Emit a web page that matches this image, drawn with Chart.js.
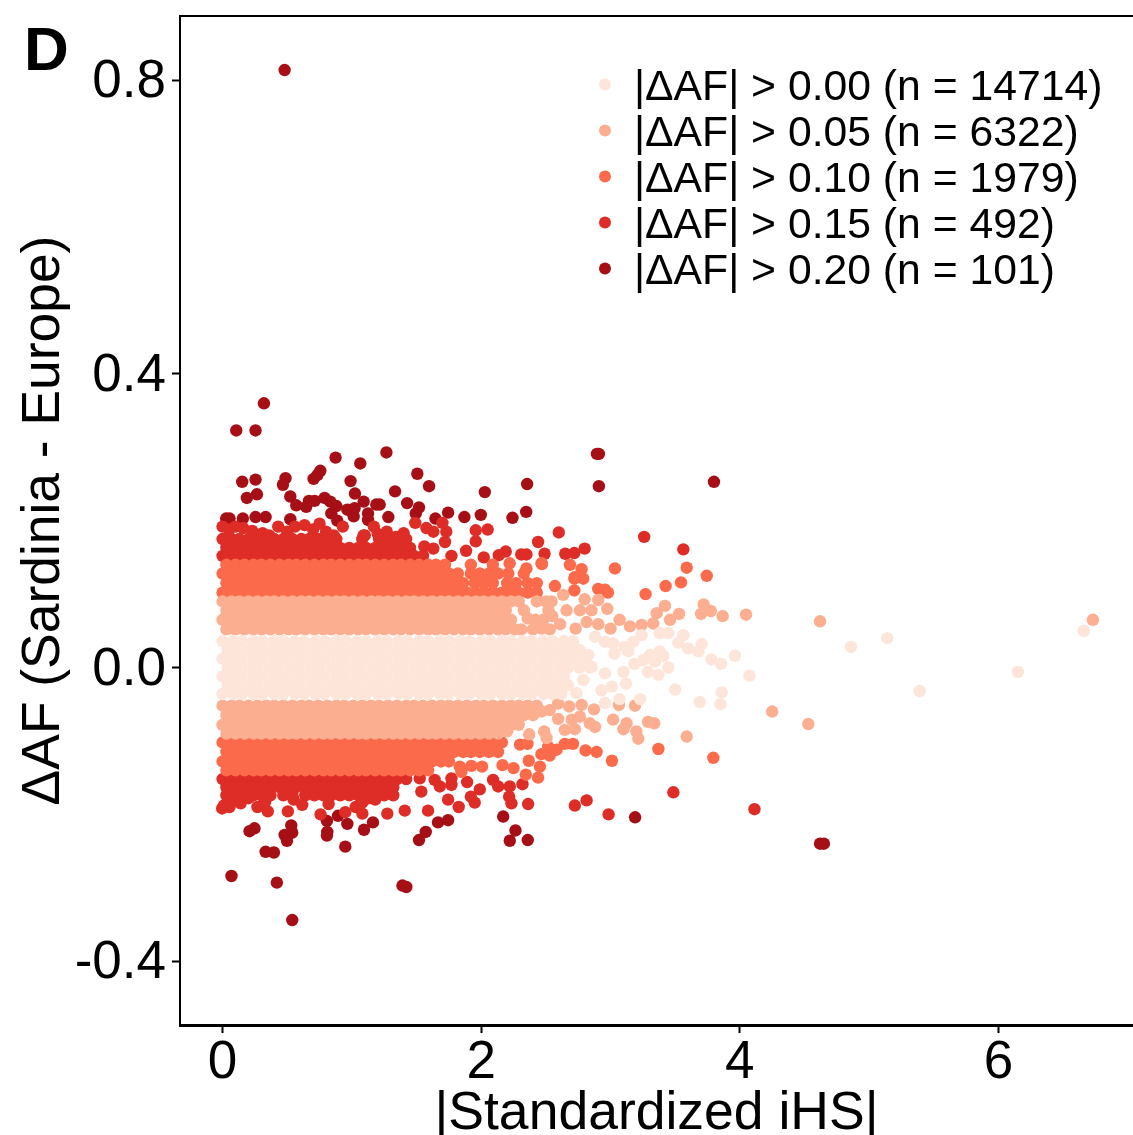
<!DOCTYPE html>
<html>
<head>
<meta charset="utf-8">
<title>Delta AF vs iHS</title>
<script src="https://cdn.jsdelivr.net/npm/chart.js@4"></script>
<style>
  body { margin: 0; background: #fff; }
  canvas { display: block; }
</style>
</head>
<body>
<canvas id="scatter" width="1133" height="1135"></canvas>
<script>
const xTicks = [0, 2, 4, 6];
const yTicks = [-0.4, 0, 0.4, 0.8];
const legendLabels = [
    "|ΔAF| > 0.00 (n = 14714)",
    "|ΔAF| > 0.05 (n = 6322)",
    "|ΔAF| > 0.10 (n = 1979)",
    "|ΔAF| > 0.15 (n = 492)",
    "|ΔAF| > 0.20 (n = 101)"
];
const colors = ["#FEE5D9", "#FCAE91", "#FB6A4A", "#DE2D26", "#A50F15"];

// dense bands, read as rows: [deltaAF, [iHS values]]
const paleRows = [
    [.036, [0,.08,.15,.24,.31,.4,.47,.56,.63,.72,.79,.88,.95,1.04,1.11,1.2,1.27,1.36,1.43,1.52,1.59,1.68,1.75,1.84,1.91,2,2.07,2.16,2.23,2.32,2.39,2.48,2.55,2.64,2.71]],
    [.024, [.04,.11,.2,.27,.36,.43,.52,.59,.68,.75,.84,.91,1,1.07,1.16,1.23,1.32,1.39,1.48,1.55,1.64,1.71,1.8,1.87,1.96,2.03,2.12,2.19,2.28,2.35,2.44,2.51,2.6,2.67,2.76]],
    [.012, [0,.08,.15,.24,.31,.4,.47,.56,.63,.72,.79,.88,.95,1.04,1.11,1.2,1.27,1.36,1.43,1.52,1.59,1.68,1.75,1.84,1.91,2,2.07,2.16,2.23,2.32,2.39,2.48,2.55,2.64,2.71,2.8]],
    [0, [.04,.11,.2,.27,.36,.43,.52,.59,.68,.75,.84,.91,1,1.07,1.16,1.23,1.32,1.39,1.48,1.55,1.64,1.71,1.8,1.87,1.96,2.03,2.12,2.19,2.28,2.35,2.44,2.51,2.6,2.67,2.76,2.84]],
    [-.012, [0,.08,.15,.24,.31,.4,.47,.56,.63,.72,.79,.88,.95,1.04,1.11,1.2,1.27,1.36,1.43,1.52,1.59,1.68,1.75,1.84,1.91,2,2.07,2.16,2.23,2.32,2.39,2.48,2.55,2.64]],
    [-.024, [.04,.11,.2,.27,.36,.43,.52,.59,.68,.75,.84,.91,1,1.07,1.16,1.23,1.32,1.39,1.48,1.55,1.64,1.71,1.8,1.87,1.96,2.03,2.12,2.19,2.28,2.35,2.44,2.51,2.6,2.67]],
    [-.036, [0,.08,.15,.24,.31,.4,.47,.56,.63,.72,.79,.88,.95,1.04,1.11,1.2,1.27,1.36,1.43,1.52,1.59,1.68,1.75,1.84,1.91,2,2.07,2.16,2.23,2.32,2.39,2.48,2.55,2.62]]
];
const peachRows = [
    [.09, [0,.07,.13,.2,.27,.34,.4,.47,.54,.61,.67,.74,.81,.88,.94,1.01,1.08,1.15,1.21,1.28,1.35,1.42,1.48,1.55,1.62,1.69,1.75,1.82,1.89,1.96,2.02,2.09,2.16,2.23,2.29,2.43,2.5]],
    [.078, [.03,.1,.17,.24,.3,.37,.44,.51,.57,.64,.71,.78,.84,.91,.98,1.05,1.11,1.18,1.25,1.32,1.38,1.45,1.52,1.59,1.65,1.72,1.79,1.86,1.92,1.99,2.06,2.13,2.19,2.33,2.52]],
    [.065, [0,.07,.13,.2,.27,.34,.4,.47,.54,.61,.67,.74,.81,.88,.94,1.01,1.08,1.15,1.21,1.28,1.35,1.42,1.48,1.55,1.62,1.69,1.75,1.82,1.89,1.96,2.02,2.09,2.16,2.23,2.42]],
    [.052, [.03,.1,.17,.24,.3,.37,.44,.51,.57,.64,.71,.78,.84,.91,.98,1.05,1.11,1.18,1.25,1.32,1.38,1.45,1.52,1.59,1.65,1.72,1.79,1.86,1.92,1.99,2.06,2.13,2.19,2.26,2.31,2.4,2.53]],
    [-.052, [0,.07,.13,.2,.27,.34,.4,.47,.54,.61,.67,.74,.81,.88,.94,1.01,1.08,1.15,1.21,1.28,1.35,1.42,1.48,1.55,1.62,1.69,1.75,1.82,1.89,1.96,2.02,2.09,2.16,2.23,2.29,2.36,2.43]],
    [-.065, [.03,.1,.17,.24,.3,.37,.44,.51,.57,.64,.71,.78,.84,.91,.98,1.05,1.11,1.18,1.25,1.32,1.38,1.45,1.52,1.59,1.65,1.72,1.79,1.86,1.92,1.99,2.06,2.13,2.19,2.26,2.33,2.4]],
    [-.078, [0,.07,.13,.2,.27,.34,.4,.47,.54,.61,.67,.74,.81,.88,.94,1.01,1.08,1.15,1.21,1.28,1.35,1.42,1.48,1.55,1.62,1.69,1.75,1.82,1.89,1.96,2.02,2.09,2.16,2.23,2.29]],
    [-.09, [.03,.1,.17,.24,.3,.37,.44,.51,.57,.64,.71,.78,.84,.91,.98,1.05,1.11,1.18,1.25,1.32,1.38,1.45,1.52,1.59,1.65,1.72,1.79,1.86,1.92,1.99,2.06,2.13]]
];
const orangeRows = [
    [.14, [.03,.1,.17,.24,.3,.37,.44,.51,.57,.64,.71,.78,.84,.91,.98,1.05,1.11,1.18,1.25,1.32,1.38,1.45,1.52,1.59,1.65,1.72]],
    [.128, [0,.07,.13,.2,.27,.34,.4,.47,.54,.61,.67,.74,.81,.88,.94,1.01,1.08,1.15,1.21,1.28,1.35,1.42,1.48,1.55,1.62,1.69,1.75,1.82,1.92,1.99,2.06,2.13,2.21,2.33]],
    [.115, [.03,.1,.17,.24,.3,.37,.44,.51,.57,.64,.71,.78,.84,.91,.98,1.05,1.11,1.18,1.25,1.32,1.38,1.45,1.52,1.59,1.65,1.72,1.79,1.86,1.95,2.02,2.09,2.2,2.27,2.36,2.43]],
    [.102, [0,.07,.13,.2,.27,.34,.4,.47,.54,.61,.67,.74,.81,.88,.94,1.01,1.08,1.15,1.21,1.28,1.35,1.42,1.48,1.55,1.62,1.69,1.75,1.82,1.89,1.96,2.02,2.09,2.16,2.23,2.29,2.36,2.43]],
    [-.102, [0,.07,.13,.2,.27,.34,.4,.47,.54,.61,.67,.74,.81,.88,.94,1.01,1.08,1.15,1.21,1.28,1.35,1.42,1.48,1.55,1.62,1.69,1.75,1.82,1.89,1.96,2.02,2.09,2.16]],
    [-.115, [.03,.1,.17,.24,.3,.37,.44,.51,.57,.64,.71,.78,.84,.91,.98,1.05,1.11,1.18,1.25,1.32,1.38,1.45,1.52,1.59,1.65,1.72,1.79,1.86,1.92,1.99,2.06,2.13]],
    [-.128, [0,.07,.13,.2,.27,.34,.4,.47,.54,.61,.67,.74,.81,.88,.94,1.01,1.08,1.15,1.21,1.28,1.35,1.42,1.48,1.55,1.62,1.69,1.75]],
    [-.14, [.03,.1,.17,.24,.3,.37,.44,.51,.57,.64,.71,.78,.84,.91,.98,1.05,1.11,1.18,1.25,1.32,1.38,1.45,1.52,1.59]]
];
const redRows = [
    [.175, [0,.07,.13,.2,.27,.34,.4,.47,.54,.61,.67,.74,.81,.88,1.08,1.21,1.28,1.35,1.42]],
    [.163, [.03,.1,.17,.24,.3,.37,.44,.51,.57,.64,.71,.78,.84,.91,.98,1.05,1.11,1.18,1.25,1.32,1.38,1.45]],
    [.152, [0,.07,.13,.2,.27,.34,.4,.47,.54,.61,.67,.74,.81,.88,.94,1.01,1.08,1.15,1.21,1.28,1.35,1.42,1.48,1.55]],
    [-.152, [0,.07,.13,.2,.27,.34,.4,.47,.54,.61,.67,.74,.81,.88,.94,1.01,1.08,1.15,1.21,1.28,1.35,1.42]],
    [-.163, [.03,.1,.17,.24,.3,.37,.44,.51,.57,.64,.71,.78,.84,.91,.98,1.05,1.11,1.18,1.25,1.32]],
    [-.174, [.03,.1,.17,.24,.3,.37,.47,.54,.64,.71,.78,.84,.91,.98,1.05,1.11,1.18,1.25,1.32]]
];

// scattered points, read one by one: [iHS, deltaAF]
const paleDots = [[3.447,.047],[3.38,.047],[3.563,.044],[3.524,.034],[3.705,.032],[3.6,.026],[3.68,.022],[3.963,.016],[3.78,.011],[3.855,.005],[4.074,-.011],[3.38,.022],[3.305,.017],[3.408,.016],[3.253,.01],[3.184,.005],[3.344,.008],[3.447,0],[3.29,-.006],[3.37,-.01],[3.12,-.022],[3.1,-.006],[2.957,-.008],[3.01,-.026],[2.93,-.031],[3.5,-.03],[3.86,-.034],[3.23,-.043],[3.69,-.047],[3.85,-.05],[3.07,-.043],[2.957,-.048],[2.737,-.035],[2.79,-.017],[2.853,.001],[2.828,.017],[3.03,.019],[3.137,.022],[3.176,.035],[3.02,.033],[3.11,.028],[2.88,.042],[2.957,.035],[3.24,.044],[4.86,.028],[5.14,.04],[6.66,.05],[6.15,-.006],[5.39,-.032]];
const peachDots = [[2.634,.099],[2.8,.093],[2.905,.092],[2.975,.08],[2.763,.078],[2.66,.078],[2.544,.09],[2.853,.078],[3.421,.084],[3.357,.074],[3.53,.073],[3.46,.065],[3.33,.06],[3.24,.058],[3.15,.056],[3.07,.065],[3,.053],[2.905,.059],[2.815,.062],[2.73,.053],[2.61,.059],[2.466,.053],[3.72,.086],[3.775,.077],[3.7,.073],[3.867,.07],[4.048,.072],[4.62,.063],[6.73,.065],[2.36,.067],[2.48,.065],[2.55,.07],
    [3.065,-.051],[3.189,-.052],[2.872,-.057],[2.776,-.051],[2.68,-.053],[2.595,-.049],[2.466,-.06],[2.595,-.07],[2.763,-.067],[2.7,-.071],[2.647,-.085],[2.724,-.084],[2.84,-.076],[2.88,-.081],[3.02,-.071],[3.124,-.076],[3.1,-.084],[3.2,-.087],[3.215,-.097],[3.29,-.074],[3.338,-.076],[3.589,-.094],[4.25,-.06],[4.53,-.077],[2.371,-.091],[2.487,-.087],[2.505,-.096],[2.2,-.087],[2.53,-.058]];
const orangeDots = [[3.034,.135],[3.589,.136],[3.744,.125],[3.426,.111],[3.545,.116],[3.271,.1],[2.72,.105],[2.905,.107],[2.957,.106],[2.98,.102],[2.57,.111],[2.686,.14],[2.776,.134],[2.724,.123],[2.789,.121],[2.466,.142],[2.35,.135],[2.22,.142],[2.09,.14],[2.47,.141],[2.72,.121],[1.92,.14],
    [2.3,-.105],[2.358,-.104],[2.518,-.108],[2.466,-.118],[2.53,-.12],[2.583,-.112],[2.647,-.104],[2.71,-.104],[2.807,-.113],[2.892,-.115],[3.011,-.127],[3.37,-.111],[3.795,-.123],[2.368,-.127],[2.25,-.137],[2.165,-.133],[2.454,-.135],[2.345,-.146],[2.44,-.15],[2.007,-.135],[1.924,-.134],[1.834,-.135],[1.847,-.142]];
const redDots = [[0,.192],[.05,.188],[.1,.192],[.16,.19],[.23,.186],[.31,.183],[.36,.18],[.43,.192],[.5,.185],[.56,.192],[.634,.194],[.7,.188],[.75,.196],[.8,.185],[.86,.18],[.93,.192],[1.1,.18],[1.2,.182],[1.27,.185],[1.34,.178],[1.883,.159],[2.02,.15],[2.136,.153],[2.19,.158],[2.31,.154],[2.35,.154],[2.49,.155],[2.44,.171],[2.6,.184],[2.65,.155],[2.72,.156],[1.958,.172],[1.958,.187],[2.05,.188],[1.73,.185],[1.7,.197],[1.49,.197],[1.576,.19],[1.63,.185],[1.72,.171],[1.77,.152],[1.63,.162],[1.56,.165],[1.17,.192],[1.09,.18],[1.4,.183],[2.8,.162],[3.26,.178],[3.563,.161],
    [.01,-.188],[.06,-.183],[.14,-.185],[.2,-.178],[.27,-.19],[.33,-.183],[.55,-.18],[.82,-.186],[1.03,-.19],[1.08,-.184],[1.13,-.178],[1.18,-.18],[-.003,-.192],[.054,-.19],[.35,-.196],[.505,-.196],[.616,-.187],[.758,-.2],[.949,-.197],[1.081,-.199],[1.274,-.199],[1.409,-.195],[1.589,-.195],[1.744,-.18],[1.826,-.19],[1.95,-.184],[1.92,-.176],[1.989,-.166],[1.891,-.156],[1.77,-.16],[1.77,-.151],[1.68,-.162],[1.64,-.153],[1.525,-.151],[1.537,-.169],[2.092,-.153],[2.131,-.162],[2.221,-.162],[2.216,-.176],[2.234,-.185],[2.319,-.159],[2.363,-.186],[2.724,-.188],[2.815,-.181],[2.985,-.2],[3.486,-.17],[4.113,-.193]];
const darkDots = [[.48,.814],[.32,.36],[.106,.323],[.255,.323],[.152,.253],[.255,.256],[.487,.258],[.467,.249],[.188,.231],[.266,.236],[.524,.233],[.57,.221],[.874,.286],[1.065,.278],[1.267,.293],[.756,.268],[.704,.257],[.733,.262],[.99,.254],[1.024,.237],[1.334,.24],[1.506,.264],[1.597,.247],[2.028,.239],[2.355,.25],[.647,.219],[.668,.227],[.712,.227],[.789,.231],[.833,.226],[.88,.22],[.841,.21],[.887,.2],[.965,.215],[1.021,.217],[1.091,.226],[1.014,.206],[1.125,.21],[1.125,.201],[1.189,.222],[1.215,.222],[1.282,.205],[1.427,.224],[1.519,.218],[1.494,.21],[1.646,.203],[1.744,.211],[1.87,.205],[1.997,.208],[2.242,.204],[2.348,.212],[.054,.203],[.028,.203],[.157,.203],[.255,.205],[.333,.205],[.524,.202],[2.895,.291],[2.91,.291],[2.91,.247],[3.8,.253],
    [.247,-.219],[.209,-.223],[.531,-.215],[.539,-.225],[.48,-.228],[.498,-.236],[.333,-.251],[.397,-.252],[.069,-.284],[.42,-.293],[.539,-.344],[1.391,-.297],[1.421,-.299],[.807,-.209],[.81,-.224],[.807,-.229],[.893,-.202],[.965,-.213],[.949,-.244],[1.094,-.221],[1.163,-.211],[1.519,-.235],[1.571,-.224],[1.666,-.211],[1.744,-.208],[2.17,-.203],[2.265,-.222],[2.221,-.236],[2.36,-.235],[3.19,-.204],[4.62,-.24],[4.65,-.24]];

const points = (rows, dots) =>
    rows.flatMap(([y, xs]) => xs.map(x => ({x, y}))).concat(dots.map(([x, y]) => ({x, y})));

const font = "'Liberation Sans', Helvetica, Arial, sans-serif";

// top border, panel letter and the legend inside the plot
const annotations = {
    id: "annotations",
    afterDraw(chart) {
        const ctx = chart.ctx;
        const area = chart.chartArea;
        ctx.save();
        ctx.strokeStyle = "#000";
        ctx.lineWidth = 2;
        ctx.beginPath();
        ctx.moveTo(area.left, area.top);
        ctx.lineTo(area.right, area.top);
        ctx.stroke();
        ctx.fillStyle = "#000";
        ctx.textBaseline = "alphabetic";
        ctx.font = "bold 62px " + font;
        ctx.fillText("D", 24, 70);
        ctx.font = "42.7px " + font;
        legendLabels.forEach((label, i) => {
            const rowY = 84.5 + i * 46;
            ctx.beginPath();
            ctx.arc(605, rowY, 6, 0, Math.PI * 2);
            ctx.fillStyle = colors[i];
            ctx.fill();
            ctx.fillStyle = "#000";
            ctx.fillText(label, 634, rowY + 15.5);
        });
        ctx.restore();
    }
};

new Chart(document.getElementById("scatter").getContext("2d"), {
    type: "scatter",
    data: {
        datasets: [
            {label: legendLabels[0], data: points(paleRows, paleDots), backgroundColor: colors[0]},
            {label: legendLabels[1], data: points(peachRows, peachDots), backgroundColor: colors[1]},
            {label: legendLabels[2], data: points(orangeRows, orangeDots), backgroundColor: colors[2]},
            {label: legendLabels[3], data: points(redRows, redDots), backgroundColor: colors[3]},
            {label: legendLabels[4], data: darkDots.map(([x, y]) => ({x, y})), backgroundColor: colors[4]}
        ]
    },
    options: {
        responsive: false,
        animation: false,
        layout: {padding: {top: 16}, autoPadding: false},
        elements: {point: {radius: 6.2, borderWidth: 0, hoverRadius: 6.2}},
        plugins: {legend: {display: false}, tooltip: {enabled: false}},
        scales: {
            x: {
                type: "linear",
                position: "bottom",
                min: -0.329,
                max: 7.04,
                afterBuildTicks: s => { s.ticks = xTicks.map(value => ({value})); },
                afterFit: s => { s.height = 110; },
                border: {color: "#000", width: 3},
                grid: {drawOnChartArea: false, color: "#000", tickColor: "#000", tickLength: 8, tickWidth: 2},
                ticks: {color: "#000", padding: -1, maxRotation: 0, autoSkip: false, font: {family: font, size: 53}, callback: v => String(v)},
                title: {display: true, text: "|Standardized iHS|", color: "#000", padding: {top: 0, bottom: -6}, font: {family: font, size: 53.5, lineHeight: 1}}
            },
            y: {
                type: "linear",
                position: "left",
                min: -0.487,
                max: 0.8876,
                afterBuildTicks: s => { s.ticks = yTicks.map(value => ({value})); },
                // the tick labels would otherwise push the plot area down
                afterFit: s => { s.width = 180; s.paddingTop = 0; s.paddingBottom = 0; },
                border: {color: "#000", width: 2},
                grid: {drawOnChartArea: false, color: "#000", tickColor: "#000", tickLength: 8, tickWidth: 2},
                ticks: {color: "#000", padding: 6, labelOffset: 2.5, autoSkip: false, font: {family: font, size: 53}, callback: v => v.toFixed(1)},
                title: {display: true, text: "ΔAF (Sardinia - Europe)", color: "#000", padding: {top: 18, bottom: 0}, font: {family: font, size: 53.4, lineHeight: 1}}
            }
        }
    },
    plugins: [annotations]
});
</script>
</body>
</html>
